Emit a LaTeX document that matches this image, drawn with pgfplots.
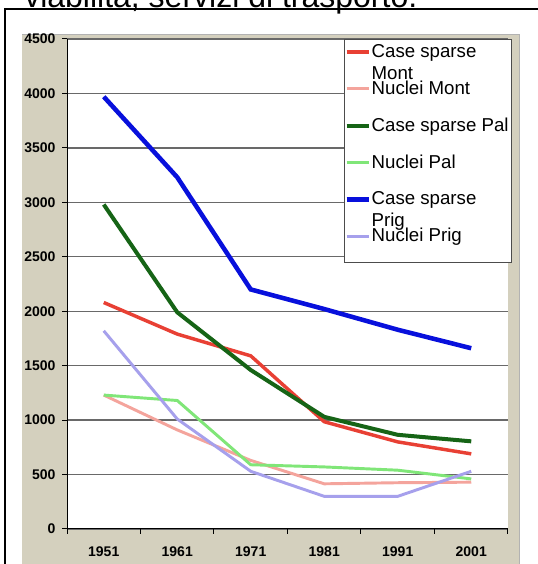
\documentclass[border=0pt]{standalone}
\usepackage{pgfplots}
\usepackage{pgfplotstable}
\pgfplotsset{compat=1.18}
\usepackage{fontspec}
\setmainfont{Liberation Sans}

\definecolor{beige}{RGB}{212,208,190}
\definecolor{cRed}{RGB}{232,64,52}
\definecolor{cPink}{RGB}{244,164,156}
\definecolor{cDkGreen}{RGB}{22,100,22}
\definecolor{cGreen}{RGB}{128,230,120}
\definecolor{cBlue}{RGB}{8,16,220}
\definecolor{cLav}{RGB}{166,160,236}
\definecolor{gridgray}{RGB}{105,105,105}

% abitanti: case sparse e nuclei
\pgfplotstableread{
x montcs montn palcs paln prigcs prign
0 2080 1230 2980 1230 3970 1820
1 1790  910 1990 1180 3230 1010
2 1590  630 1460  590 2200  530
3  985  415 1030  570 2020  300
4  800  425  865  540 1830  300
5  690  430  805  460 1660  530
}\datatable

\newcommand{\es}{\rule[-4pt]{0pt}{12.5pt}}

\begin{document}
\begin{tikzpicture}
\useasboundingbox (0pt,0pt) rectangle (403.5pt,423pt);
\clip (0pt,0pt) rectangle (403.5pt,423pt);
% cornice e titolo
\node[anchor=base west, inner sep=0pt, font=\fontsize{24}{28}\selectfont] at (18pt,417pt) {viabilità, servizi di trasporto.};
\draw[black, line width=1.5pt] (3.75pt,0pt) -- (3.75pt,415.9pt) -- (410pt,415.9pt);
\fill[beige] (16.5pt,-5pt) rectangle (389.25pt,396.75pt);
\draw[black!30, line width=0.75pt] (389.6pt,-5pt) -- (389.6pt,397.1pt) -- (16.5pt,397.1pt);

\begin{axis}[
    at={(50.25pt,26.25pt)}, anchor=south west,
    scale only axis,
    width=330.75pt, height=367.5pt,
    xmin=-0.5, xmax=5.5,
    ymin=0, ymax=4500,
    xtick={0,...,5},
    xticklabels={1951,1961,1971,1981,1991,2001},
    minor xtick={-0.5,0.5,...,5.5},
    ytick={0,500,...,4500},
    axis x line*=bottom, axis y line*=left,
    axis line style={black, line width=0.75pt},
    tick align=outside,
    major tick length=3.5pt, minor tick length=3.5pt,
    major x tick style={draw=none},
    minor x tick style={black, line width=0.75pt},
    y tick style={black, line width=0.75pt},
    ymajorgrids,
    major grid style={gridgray, line width=1pt},
    axis background/.style={fill=white},
    tick label style={font=\bfseries\fontsize{10.5}{12}\selectfont},
    yticklabel style={inner sep=0pt, xshift=-5pt},
    xticklabel style={inner sep=0pt, yshift=-9.5pt},
    /pgf/number format/assume math mode=true,
    /pgf/number format/1000 sep={},
    legend image code/.code={\draw[#1] (0pt,4pt) -- (16.5pt,4pt);},
    legend style={at={(0.628,1)}, anchor=north west, draw=black!70,
        line width=0.75pt, fill=white, inner xsep=0pt, inner ysep=1.5pt,
        row sep=12.1pt, column sep=-1.5pt,
        font=\fontsize{14}{16}\selectfont,
        cells={anchor=base west, inner sep=0pt}},
]
\addplot[cRed, line width=2.6pt] table[x=x, y=montcs] {\datatable};
\addlegendentry{\es\rlap{\smash{\raisebox{-16.5pt}{Mont}}}Case sparse}
\addplot[cPink, line width=2.2pt] table[x=x, y=montn] {\datatable};
\addlegendentry{\es Nuclei Mont}
\addplot[cDkGreen, line width=3pt] table[x=x, y=palcs] {\datatable};
\addlegendentry{\es Case sparse Pal}
\addplot[cGreen, line width=2.2pt] table[x=x, y=paln] {\datatable};
\addlegendentry{\es Nuclei Pal}
\addplot[cBlue, line width=3.4pt] table[x=x, y=prigcs] {\datatable};
\addlegendentry{\es\rlap{\smash{\raisebox{-16.5pt}{Prig}}}Case sparse}
\addplot[cLav, line width=2.2pt] table[x=x, y=prign] {\datatable};
\addlegendentry[text depth=12pt]{Nuclei Prig}
\end{axis}
\end{tikzpicture}
\end{document}
